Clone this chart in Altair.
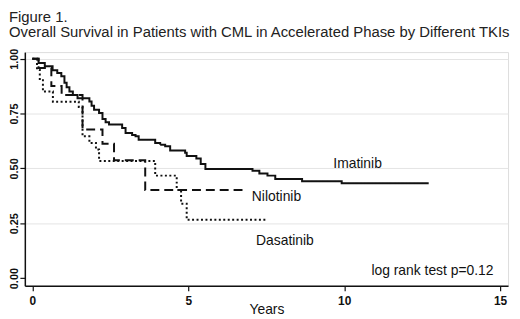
import altair as alt
import pandas as pd

# Kaplan-Meier step points (years, survival)
imatinib_t = [0, 0.2, 0.4, 0.65, 0.8, 0.93, 1.03, 1.1, 1.19, 1.3, 1.45, 1.83, 1.9, 1.98, 2.14, 2.25, 2.35,
              2.46, 2.88, 2.99, 3.2, 3.31, 3.41, 3.94, 4.1, 4.26, 4.42, 4.9, 4.95, 5.26, 5.4, 5.55,
              7.06, 7.28, 7.54, 7.79, 8.65, 9.92, 12.71]
imatinib_s = [1.0, 0.98, 0.965, 0.947, 0.935, 0.92, 0.89, 0.87, 0.85, 0.835, 0.82, 0.805, 0.785, 0.767, 0.752,
              0.725, 0.71, 0.70, 0.684, 0.661, 0.652, 0.646, 0.631, 0.616, 0.608, 0.601, 0.582, 0.571, 0.556,
              0.545, 0.52, 0.497, 0.489, 0.477, 0.467, 0.452, 0.441, 0.432, 0.432]

nilotinib_t = [0, 0.2, 0.61, 0.94, 1.61, 2.25, 2.62, 3.62, 6.75]
nilotinib_s = [1.0, 0.958, 0.875, 0.834, 0.677, 0.612, 0.537, 0.401, 0.401]

dasatinib_t = [0, 0.15, 0.24, 0.34, 0.66, 1.49, 1.61, 1.83, 2.04, 2.14, 3.94, 4.63, 4.77, 4.95, 7.5]
dasatinib_s = [1.0, 0.95, 0.902, 0.85, 0.804, 0.78, 0.646, 0.616, 0.586, 0.534, 0.467, 0.402, 0.339, 0.266, 0.266]

label_text = ["Imatinib", "Nilotinib", "Dasatinib", "log rank test p=0.12"]
label_x = [10.43, 7.83, 8.1, 12.83]
label_y = [0.521, 0.368, 0.17, 0.033]

x_ticks = [0, 5, 10, 15]
y_ticks = [0, 0.25, 0.5, 0.75, 1.0]

FONT = "Liberation Sans"

def df(t, s, name):
    return pd.DataFrame({"t": t, "s": s, "drug": name})

xscale = alt.Scale(domain=[-0.24, 15.254], nice=False, zero=False)
yscale = alt.Scale(domain=[-0.035, 1.03], nice=False, zero=False)

xaxis = alt.Axis(values=x_ticks, title="Years", grid=False, labelFontWeight="bold",
                 labelFontSize=12, labelFont=FONT, titleFont=FONT, titleFontSize=14,
                 titleFontWeight="normal", titlePadding=-4, tickSize=5, labelPadding=5,
                 domainColor="#111", tickColor="#111", labelColor="#111", titleColor="#111",
                 domainWidth=1.5, tickWidth=1.2, labelFlush=False)
yaxis = alt.Axis(values=y_ticks, format=".2f", title=None, grid=True,
                 gridColor={"condition": {"test": "datum.value === 0", "value": "transparent"},
                            "value": "#e4e4e4"},
                 gridWidth=1, labelAngle=270,
                 labelFontWeight="bold", labelFontSize=11, labelFont=FONT, tickSize=5,
                 labelPadding=0, domainColor="#111", tickColor="#111", labelColor="#111",
                 domainWidth=1.5, tickWidth=1.2, labelFlush=False)

xenc = alt.X("t:Q", scale=xscale, axis=xaxis)
yenc = alt.Y("s:Q", scale=yscale, axis=yaxis)

def km(d, dash):
    return alt.Chart(d).mark_line(interpolate="step-after", color="#111", strokeWidth=2,
                                  strokeDash=dash).encode(x=xenc, y=yenc)

lines = [
    km(df(imatinib_t, imatinib_s, "Imatinib"), [1, 0]),
    km(df(nilotinib_t, nilotinib_s, "Nilotinib"), [9, 5]),
    km(df(dasatinib_t, dasatinib_s, "Dasatinib"), [2, 2.5]),
]

labels = alt.Chart(pd.DataFrame({"x": label_x, "y": label_y, "txt": label_text})).mark_text(
    font=FONT, fontSize=14, color="#111", align="center", baseline="middle").encode(
    x=alt.X("x:Q", scale=xscale, axis=xaxis), y=alt.Y("y:Q", scale=yscale, axis=yaxis), text="txt:N")

chart = alt.layer(*lines, labels).properties(
    width=488, height=236,
    padding={"left": 0, "top": 0, "right": 0, "bottom": 0},
    title=alt.TitleParams(
        ["Figure 1.", "Overall Survival in Patients with CML in Accelerated Phase by Different TKIs"],
        anchor="start", frame="bounds", fontSize=15, fontWeight="normal", font=FONT,
        color="#222", lineHeight=15, offset=8),
).configure_view(stroke=None).configure(background="white")

chart.save("out.html", embed_options={"renderer": "svg", "actions": False})
